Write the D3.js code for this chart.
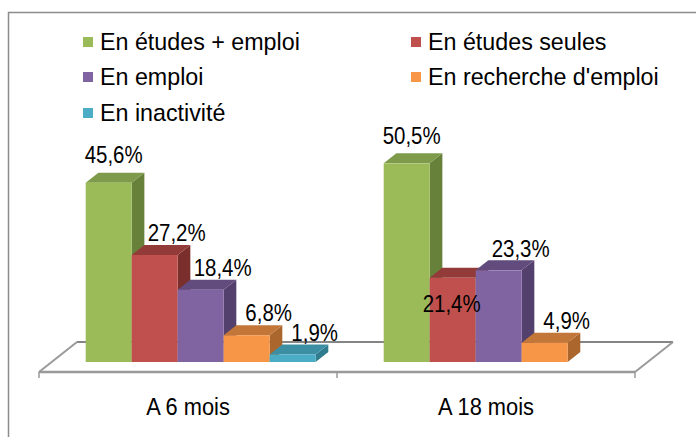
<!DOCTYPE html>
<html>
<head>
<meta charset="utf-8">
<script src="https://cdn.jsdelivr.net/npm/d3@7"></script>
<style>
  html, body { margin: 0; padding: 0; background: #fff; }
  svg text { font-family: "Liberation Sans", Arial, sans-serif; fill: #000; }
</style>
</head>
<body>
<svg id="chart" width="696" height="437"></svg>
<script>
// ---- data ----
const categories = ["A 6 mois", "A 18 mois"];
const seriesNames = ["En études + emploi", "En études seules", "En emploi", "En recherche d'emploi", "En inactivité"];
const values6mois = [45.6, 27.2, 18.4, 6.8, 1.9];
const values18mois = [50.5, 21.4, 23.3, 4.9, null];
const frontColors = ["#9BBB59", "#C0504D", "#8064A2", "#F79646", "#4BACC6"];
const topColors   = ["#7D9B4A", "#923B39", "#624B7D", "#C27638", "#3C8EA3"];
const sideColors  = ["#67803A", "#7B2F2D", "#53406C", "#AB662E", "#307C8F"];

const valuesByCategory = [values6mois, values18mois];

// ---- layout ----
const svg = d3.select("#chart");

// text helper: horizontally condensed text like the reference rendering
function addText(parent, x, y, str, size, sx, anchor) {
  return parent.append("text")
    .attr("transform", `translate(${x},${y}) scale(${sx},1)`)
    .attr("dy", "0.35em")
    .attr("text-anchor", anchor || "start")
    .style("font-size", size + "px")
    .text(str);
}

// outer chart border (extends beyond the picture on right/bottom)
svg.append("rect")
  .attr("x", 8.5).attr("y", 12.5).attr("width", 720).attr("height", 460)
  .attr("fill", "none").attr("stroke", "#8c8c8c").attr("stroke-width", 1.5);

const floorFrontY = 372;
const depth = { dx: 38, dy: -30 };          // floor depth vector
const barDepth = { dx: depth.dx / 3, dy: depth.dy / 3 };
const baseY = floorFrontY + depth.dy / 3;   // bars stand 1/3 deep in the floor

const x0 = d3.scaleBand().domain(categories).range([39, 635]).padding(0);
const x1 = d3.scaleBand().domain(seriesNames).range([0, x0.bandwidth()])
  .paddingInner(0).paddingOuter(0.74);
const y = d3.scaleLinear().domain([0, 60]).range([baseY, baseY - 236]);

// floor
const fl = x0.range()[0], fr = x0.range()[1];
const floor = svg.append("g");
floor.append("line")
  .attr("x1", fl + depth.dx).attr("x2", fr + depth.dx)
  .attr("y1", floorFrontY + depth.dy).attr("y2", floorFrontY + depth.dy)
  .attr("stroke", "#858585").attr("stroke-width", 2);
floor.append("line")
  .attr("x1", fl).attr("x2", fl + depth.dx)
  .attr("y1", floorFrontY).attr("y2", floorFrontY + depth.dy)
  .attr("stroke", "#9a9a9a").attr("stroke-width", 2);
floor.append("line")
  .attr("x1", fr).attr("x2", fr + depth.dx)
  .attr("y1", floorFrontY).attr("y2", floorFrontY + depth.dy)
  .attr("stroke", "#9a9a9a").attr("stroke-width", 2);
floor.append("line")
  .attr("x1", fl).attr("x2", fr)
  .attr("y1", floorFrontY).attr("y2", floorFrontY)
  .attr("stroke", "#999999").attr("stroke-width", 2.5);

// ticks on front edge
const tickXs = [fl].concat(categories.map(c => x0(c) + x0.bandwidth()));
floor.selectAll("line.tick").data(tickXs).enter().append("line")
  .attr("class", "tick")
  .attr("x1", d => d).attr("x2", d => d)
  .attr("y1", floorFrontY).attr("y2", floorFrontY + 6)
  .attr("stroke", "#999").attr("stroke-width", 1.5);

// bars
const barsG = svg.append("g");
const labels = [];
categories.forEach((cat, ci) => {
  const vals = valuesByCategory[ci];
  seriesNames.forEach((s, si) => {
    const v = vals[si];
    if (v == null) return;
    const x = x0(cat) + x1(s) + depth.dx / 3;
    const w = x1.bandwidth();
    const yt = y(v), yb = y(0);
    const g = barsG.append("g");
    g.append("polygon")
      .attr("points", [[x + w, yt], [x + w + barDepth.dx, yt + barDepth.dy],
                       [x + w + barDepth.dx, yb + barDepth.dy], [x + w, yb]].map(p => p.join(",")).join(" "))
      .attr("fill", sideColors[si]);
    g.append("polygon")
      .attr("points", [[x, yt], [x + barDepth.dx, yt + barDepth.dy],
                       [x + w + barDepth.dx, yt + barDepth.dy], [x + w, yt]].map(p => p.join(",")).join(" "))
      .attr("fill", topColors[si]);
    g.append("rect")
      .attr("x", x).attr("y", yt).attr("width", w).attr("height", yb - yt)
      .attr("fill", frontColors[si]);

    // label placement (mimics the reference's 3D label placement)
    let lx = x + w / 2 + 22, ly = yt - 22;
    if (si === 0) { lx = x + w / 2 + 5; ly = yt - 28; }
    if (ci === 1 && si === 1) { lx = x + w / 2 - 1; ly = yt + 26; }
    labels.push({ v, lx, ly });
  });
});

const fmt = v => d3.format(".1f")(v).replace(".", ",") + "%";
const labelG = svg.append("g");
labels.forEach(d => addText(labelG, d.lx, d.ly, fmt(d.v), 23.5, 0.87, "middle"));

// category labels
const catG = svg.append("g");
categories.forEach(c => addText(catG, x0(c) + x0.bandwidth() / 2, 407, c, 24, 0.91, "middle"));

// legend
const legendCols = [83, 411];
const legendRows = [42, 77, 113];
const legend = svg.append("g");
seriesNames.forEach((s, i) => {
  const cx = legendCols[i % 2], cy = legendRows[Math.floor(i / 2)];
  legend.append("rect")
    .attr("x", cx).attr("y", cy - 5).attr("width", 10).attr("height", 10)
    .attr("fill", frontColors[i]);
  addText(legend, cx + 17, cy, s, 24, 0.97, "start");
});
</script>
</body>
</html>
